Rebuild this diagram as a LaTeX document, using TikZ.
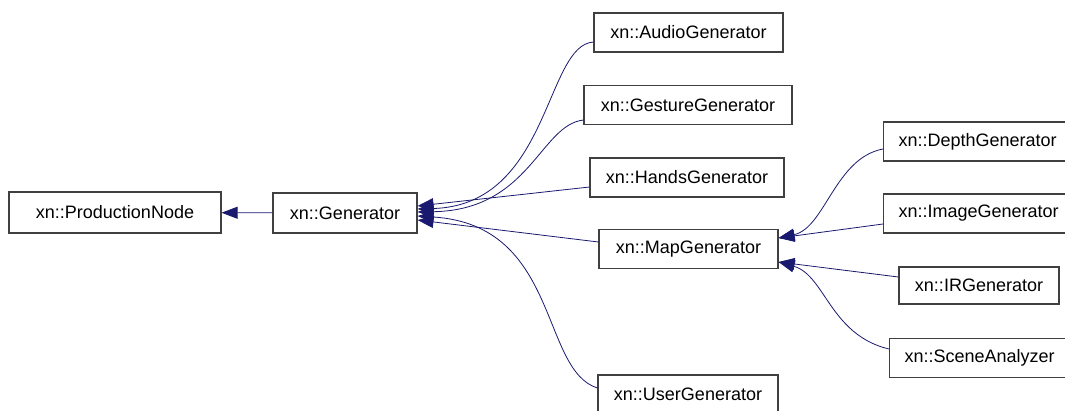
\documentclass[tikz,border=0pt]{standalone}
\usepackage{fontspec}
\setmainfont{Liberation Sans}
\usetikzlibrary{arrows.meta}
\definecolor{edgeblue}{HTML}{191970}

\begin{document}
\begin{tikzpicture}[x=1pt, y=-1pt,
    cls/.style={draw=black!75, line width=1.1pt, rectangle, minimum height=39pt,
        inner sep=0pt, font=\fontsize{18}{20}\selectfont},
    cut/.style={cls, anchor=west, align=left, text width=175pt, inner xsep=15pt},
    inherit/.style={draw=edgeblue, line width=0.8pt,
        -{Triangle[length=16pt, width=12pt, fill=edgeblue]}}]
    \useasboundingbox (0,0) rectangle (1065,410);
    \clip (0,0) rectangle (1065,410);

    % classes
    \node[cls, minimum width=212pt, minimum height=41pt] (prod) at (115,212.5) {xn::ProductionNode};
    \node[cls, minimum width=144pt, minimum height=40pt] (gen) at (345,213) {xn::Generator};
    \node[cls, minimum width=189pt] (audio) at (688.5,32.5) {xn::AudioGenerator};
    \node[cls, minimum width=208pt] (gesture) at (688,105) {xn::GestureGenerator};
    \node[cls, minimum width=194pt] (hands) at (687,177.5) {xn::HandsGenerator};
    \node[cls, minimum width=179pt] (map) at (688.5,249) {xn::MapGenerator};
    \node[cls, minimum width=180pt] (user) at (688,394.5) {xn::UserGenerator};
    % right column, running off the page
    \node[cut] (depth) at (883,141.5) {xn::DepthGenerator};
    \node[cut] (image) at (883,213.5) {xn::ImageGenerator};
    \node[cls, minimum width=160pt, minimum height=37pt] (ir) at (979,285.5) {xn::IRGenerator};
    \node[cut] (scene) at (889,358) {xn::SceneAnalyzer};

    % inheritance
    \draw[inherit] (gen) -- (prod);
    \draw[inherit] ([yshift=-9.5pt]audio.west) .. controls (545,45) and (550,205) .. ([yshift=4pt]gen.east);
    \draw[inherit] ([yshift=-15pt]gesture.west) .. controls (540,125) and (530,210) .. ([yshift=1pt]gen.east);
    \draw[inherit] ([yshift=-9.5pt]hands.west) -- ([yshift=7pt]gen.east);
    \draw[inherit] ([yshift=7pt]map.west) -- ([yshift=-7pt]gen.east);
    \draw[inherit] ([yshift=6.5pt]user.west) .. controls (540,370) and (560,225) .. ([yshift=-3pt]gen.east);

    \draw[inherit] ([yshift=-7.5pt]depth.west) .. controls (835,158) and (825,228) .. ([yshift=11pt]map.east);
    \draw[inherit] ([yshift=-10.5pt]image.west) -- ([yshift=11pt]map.east);
    \draw[inherit] ([yshift=8.5pt]ir.west) -- ([yshift=-13pt]map.east);
    \draw[inherit] ([yshift=9pt]scene.west) .. controls (830,335) and (825,275) .. ([yshift=-13pt]map.east);
\end{tikzpicture}
\end{document}
